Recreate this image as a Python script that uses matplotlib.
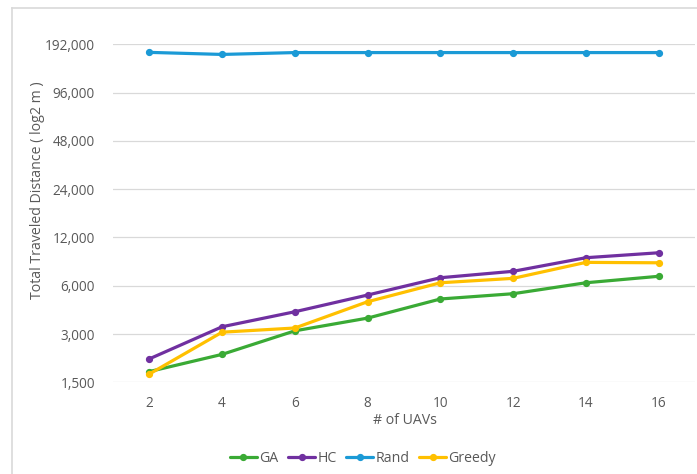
import matplotlib
matplotlib.use("Agg")
import matplotlib.pyplot as plt
from matplotlib.lines import Line2D
from matplotlib.ticker import FixedLocator, FuncFormatter

# --- Data ---
uavs = [2, 4, 6, 8, 10, 12, 14, 16]
ga = [1750, 2240, 3140, 3770, 4960, 5350, 6260, 6870]
hc = [2100, 3330, 4130, 5250, 6730, 7380, 8970, 9630]
rand = [171000, 166000, 170500, 170500, 170500, 170500, 170500, 170500]
greedy = [1690, 3080, 3270, 4770, 6260, 6670, 8390, 8340]
y_ticks = [1500, 3000, 6000, 12000, 24000, 48000, 96000, 192000]

series = [
    ("GA", ga, "#3AAA35"),
    ("HC", hc, "#7030A0"),
    ("Rand", rand, "#1B9AD6"),
    ("Greedy", greedy, "#FFC000"),
]

text_color = "#595959"
grid_color = "#D9D9D9"
plt.rcParams["font.family"] = ["Open Sans", "DejaVu Sans"]

fig = plt.figure(figsize=(6.97, 4.74), dpi=100)
fig.patch.set_facecolor("white")

# chart area border (left and top edges visible)
W, H = 697, 474
fig.add_artist(Line2D([12 / W, 12 / W], [0, 1 - 8 / H], color=grid_color, lw=1.2))
fig.add_artist(Line2D([12 / W, 1], [1 - 8 / H, 1 - 8 / H], color=grid_color, lw=1.2))

ax = fig.add_axes([113 / W, 1 - 382.3 / H, (695 - 113) / W, (382.3 - 44.3) / H])

pos = list(range(len(uavs)))
handles = []
for name, vals, color in series:
    h, = ax.plot(pos, vals, color=color, lw=2.3, marker="o", markersize=4.2,
                 label=name, solid_capstyle="round")
    handles.append(h)

ax.set_yscale("log", base=2)
ax.set_ylim(y_ticks[0], y_ticks[-1])
ax.yaxis.set_major_locator(FixedLocator(y_ticks))
ax.yaxis.set_minor_locator(FixedLocator([]))
ax.yaxis.set_major_formatter(FuncFormatter(lambda v, _: f"{v:,.0f}"))
ax.set_xlim(-0.5, len(uavs) - 0.5)
ax.set_xticks(pos)
ax.set_xticklabels([str(u) for u in uavs])

ax.grid(axis="y", color=grid_color, lw=0.9)
ax.set_axisbelow(True)
for s in ax.spines.values():
    s.set_visible(False)
ax.tick_params(length=0, colors=text_color, labelsize=9.8)
ax.tick_params(axis="y", pad=13)
ax.tick_params(axis="x", pad=10)

fig.text(38 / W, 1 - 190 / H, "Total Traveled Distance ( log2 m )", rotation=90,
         ha="center", va="center", color=text_color, fontsize=10.2)
fig.text(405 / W, 1 - 421 / H, "# of UAVs", ha="center", va="center",
         color=text_color, fontsize=10.2)

fig.legend(handles=handles, loc="center", bbox_to_anchor=(363 / W, 1 - 458 / H),
           ncol=4, frameon=False, fontsize=10.2, labelcolor=text_color,
           handlelength=1.9, handletextpad=0.15, columnspacing=0.7)

fig.savefig("out.png", dpi=100)
